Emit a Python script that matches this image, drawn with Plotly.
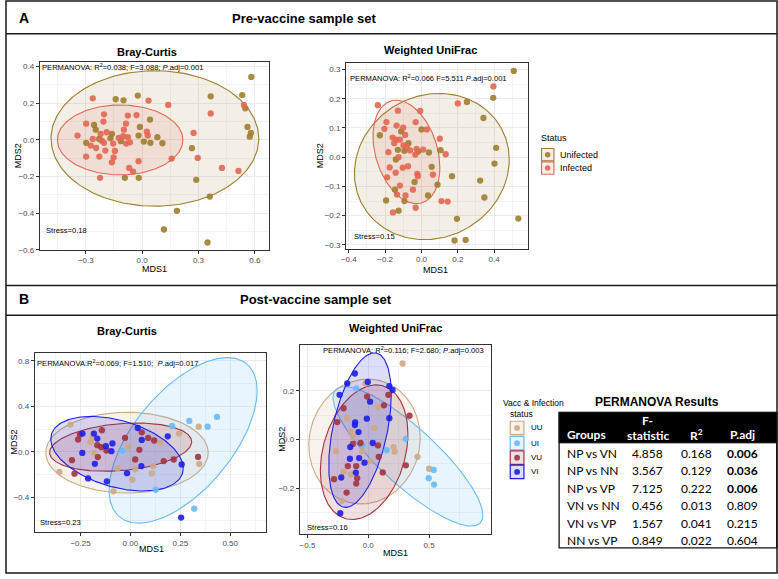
import numpy as np
import plotly.graph_objects as go

W, H = 778, 579
def px(x): return x / W
def py(y): return 1 - y / H

# ---------------- DATA ----------------
status_groups = ["Unifected", "Infected"]
vacc_groups = ["UU", "UI", "VU", "VI"]

# Panel A – Bray-Curtis (pre-vaccine)
a_bc_unif_x = [0.581, 0.533, 0.549, 0.365, 0.561, 0.579, 0.573, 0.265, 0.288, 0.360, 0.185, 0.116, 0.348,
               -0.141, -0.099, -0.023, 0.042, -0.012, 0.081, 0.108, 0.044, 0.009, -0.019, -0.092, -0.018,
               -0.256, -0.247, -0.298, -0.229, -0.169, -0.161, -0.113]
a_bc_unif_y = [0.344, 0.245, 0.173, 0.238, 0.071, 0.038, 0.018, -0.045, -0.218, -0.309, -0.387, -0.489, -0.560,
               0.222, 0.216, 0.242, 0.111, 0.071, 0.015, -0.018, -0.016, -0.009, 0.024, -0.207, -0.207,
               0.082, 0.056, -0.016, 0.005, 0.009, 0.033, -0.007]
a_bc_inf_x = [-0.263, 0.034, 0.139, 0.365, 0.542, -0.203, -0.076, -0.030, -0.298, -0.206, -0.086, -0.097, -0.344,
              -0.221, -0.189, 0.025, 0.030, -0.274, -0.245, -0.215, -0.203, -0.154, -0.124, -0.076, -0.085,
              -0.065, -0.196, -0.145, -0.298, -0.228, -0.152, -0.161, -0.019, -0.069, -0.048, -0.224, 0.157,
              0.274, 0.296, 0.425, 0.513, -0.101, -0.263]
a_bc_inf_y = [0.227, 0.215, 0.191, 0.145, 0.191, 0.140, 0.133, 0.136, 0.089, 0.100, 0.089, 0.056, 0.024,
              0.033, 0.042, 0.045, 0.024, -0.031, -0.044, -0.004, -0.016, -0.020, 0.011, 0.015, -0.020,
              -0.013, -0.058, -0.060, -0.091, -0.091, -0.096, -0.122, -0.116, -0.153, -0.173, -0.207, -0.102,
              0.038, -0.098, -0.153, -0.169, 0.020, 0.005]

# Panel A – Weighted UniFrac (pre-vaccine)
a_wu_unif_x = [0.508, 0.395, 0.250, 0.341, 0.411, 0.402, -0.229, -0.112, 0.0, -0.072, -0.130, -0.094, -0.018,
               0.041, 0.105, -0.141, 0.056, -0.038, 0.088, 0.168, 0.323, 0.346, 0.533, 0.195, 0.182, 0.243,
               -0.146, -0.094, 0.036, -0.195, -0.126]
a_wu_unif_y = [0.295, 0.203, 0.189, 0.134, 0.032, -0.022, 0.075, 0.088, 0.095, 0.048, 0.025, 0.022, 0.019,
               0.016, 0.024, -0.008, -0.033, -0.085, -0.094, -0.065, -0.080, -0.138, -0.210, -0.211, -0.285,
               -0.283, -0.111, -0.150, -0.131, -0.148, -0.183]
a_wu_inf_x = [-0.240, -0.130, -0.007, -0.193, -0.032, 0.200, 0.396, -0.204, -0.137, -0.101, 0.029, -0.159,
              -0.141, -0.119, -0.090, -0.150, -0.099, -0.081, -0.063, -0.027, 0.009, 0.101, 0.133, -0.182,
              -0.126, -0.034, -0.175, -0.103, -0.142, -0.023, -0.020, 0.063, -0.189, -0.119, -0.047, -0.135,
              -0.088, 0.110, 0.144, -0.032, -0.157, -0.074]
a_wu_inf_y = [0.178, 0.159, 0.158, 0.120, 0.120, 0.184, 0.242, 0.097, 0.108, 0.101, 0.095, 0.067, 0.060,
              0.060, 0.076, 0.048, 0.040, 0.036, 0.023, 0.028, 0.026, 0.063, 0.010, 0.017, 0.0, 0.009,
              -0.035, -0.036, -0.053, -0.057, -0.065, -0.060, -0.069, -0.097, -0.111, -0.128, -0.131,
              -0.150, -0.152, -0.173, -0.189, -0.031]

# Panel B – Bray-Curtis (post-vaccine)
b_bc_uu_x = [-0.300, 0.342, 0.244, 0.345, 0.150, -0.010, 0.114, 0.107, 0.024, 0.010, -0.065, -0.085, -0.356,
             -0.180, -0.200, -0.190]
b_bc_uu_y = [0.240, 0.222, 0.161, -0.105, 0.082, 0.047, -0.125, -0.189, -0.154, -0.245, -0.146, -0.347, -0.175,
             -0.009, 0.085, 0.123]
b_bc_ui_x = [0.434, 0.295, 0.387, 0.209, -0.040, 0.127, 0.320]
b_bc_ui_y = [0.307, 0.272, 0.222, 0.228, 0.009, -0.333, -0.499]
b_bc_vu_x = [0.339, 0.217, 0.119, 0.089, 0.057, -0.027, 0.045, 0.024, 0.167, -0.280, -0.293, -0.163, -0.120,
             -0.166, -0.146, -0.262, -0.143, -0.253]
b_bc_vu_y = [-0.044, -0.067, 0.100, 0.123, 0.172, 0.123, 0.018, -0.067, -0.081, -0.192, -0.073, -0.046, 0.012,
             0.059, 0.041, 0.109, 0.190, 0.152]
b_bc_vi_x = [0.254, 0.257, 0.187, 0.037, 0.057, 0.055, -0.017, -0.118, -0.212, -0.178, -0.241, -0.095, -0.123,
             -0.090, -0.240, -0.166, -0.183]
b_bc_vi_y = [-0.578, -0.110, 0.137, 0.210, 0.105, -0.125, -0.187, -0.259, -0.233, -0.105, -0.009, 0.006, 0.050,
             0.074, 0.161, 0.117, 0.161]

# Panel B – Weighted UniFrac (post-vaccine)
b_wu_uu_x = [0.282, -0.023, 0.083, -0.173, 0.050, -0.140, -0.124, -0.266, -0.050, 0.015, 0.208, 0.217, 0.405,
             0.500, -0.203, -0.143, -0.219]
b_wu_uu_y = [0.313, 0.231, 0.133, 0.086, 0.048, 0.034, 0.011, -0.048, -0.048, -0.088, -0.031, -0.050, -0.071,
             -0.120, -0.132, -0.143, -0.252]
b_wu_ui_x = [-0.099, -0.050, 0.309, 0.151, 0.538, 0.497, 0.541]
b_wu_ui_y = [0.211, -0.023, 0.003, -0.044, -0.125, -0.159, -0.185]
b_wu_vu_x = [0.165, -0.203, -0.255, -0.010, 0.129, 0.339, -0.127, -0.064, 0.080, 0.086, -0.168, -0.099, 0.309,
             0.119, -0.091, -0.099, -0.282, -0.178]
b_wu_vu_y = [0.184, 0.129, 0.072, 0.177, 0.141, 0.098, -0.018, -0.014, -0.024, -0.071, -0.109, -0.109, -0.106,
             -0.135, -0.159, -0.181, -0.163, -0.218]
b_wu_vi_x = [-0.110, -0.173, -0.004, -0.236, 0.173, 0.200, 0.015, -0.012, 0.173, -0.108, -0.110, -0.080, 0.037,
             -0.148, -0.151, -0.075, -0.031, -0.102, -0.222, -0.230]
b_wu_vi_y = [0.272, 0.231, 0.237, 0.184, 0.220, 0.204, 0.156, 0.086, 0.088, 0.071, 0.060, 0.031, -0.014,
             -0.031, -0.079, -0.076, -0.095, -0.136, -0.156, -0.303]

# 95% ellipses: centre x, centre y, half-width, half-height, x-offset of top point
a_bc_ellipse = {"Unifected": [0.068, 0.008, 0.553, 0.370, 0.0], "Infected": [-0.117, 0.0, 0.334, 0.191, 0.0]}
a_wu_ellipse = {"Unifected": [0.057, -0.032, 0.426, 0.250, 0.04], "Infected": [-0.083, 0.018, 0.184, 0.177, -0.056]}
b_bc_ellipse = {"UU": [-0.017, -0.007, 0.407, 0.355, 0.0], "UI": [0.264, 0.101, 0.371, 0.728, 0.222],
                "VU": [-0.049, 0.042, 0.356, 0.212, 0.08], "VI": [-0.067, -0.016, 0.332, 0.328, -0.13]}
b_wu_ellipse = {"UU": [-0.031, -0.008, 0.458, 0.257, 0.027], "UI": [0.326, -0.069, 0.616, 0.287, -0.52],
                "VU": [-0.034, -0.052, 0.360, 0.277, 0.098], "VI": [-0.068, 0.039, 0.257, 0.318, 0.118]}

# text
a_bc_stats = "PERMANOVA: R<sup>2</sup>=0.038; F=3.088; <i>P</i>.adj=0.001"
a_wu_stats = "PERMANOVA: R<sup>2</sup>=0.066 F=5.511 <i>P</i>.adj=0.001"
b_bc_stats = "PERMANOVA:R<sup>2</sup>=0.069; F=1.510;  <i>P</i>.adj=0.017"
b_wu_stats = "PERMANOVA: R<sup>2</sup>=0.116; F=2.680; <i>P</i>.adj=0.003"
stress_values = ["Stress=0.18", "Stress=0.15", "Stress=0.23", "Stress=0.16"]

# tick labels
a_bc_xticks = [-0.3, 0.0, 0.3, 0.6]; a_bc_xlab = ["\u22120.3", "0.0", "0.3", "0.6"]
a_bc_yticks = [-0.6, -0.4, -0.2, 0.0, 0.2, 0.4]; a_bc_ylab = ["\u22120.6", "\u22120.4", "\u22120.2", "0.0", "0.2", "0.4"]
a_wu_xticks = [-0.4, -0.2, 0.0, 0.2, 0.4]; a_wu_xlab = ["\u22120.4", "\u22120.2", "0.0", "0.2", "0.4"]
a_wu_yticks = [-0.3, -0.2, -0.1, 0.0, 0.1, 0.2, 0.3]
a_wu_ylab = ["\u22120.3", "\u22120.2", "\u22120.1", "0.0", "0.1", "0.2", "0.3"]
b_bc_xticks = [-0.25, 0.0, 0.25, 0.5]; b_bc_xlab = ["\u22120.25", "0.00", "0.25", "0.50"]
b_bc_yticks = [-0.4, 0.0, 0.4, 0.8]; b_bc_ylab = ["\u22120.4", "0.0", "0.4", "0.8"]
b_wu_xticks = [-0.5, 0.0, 0.5]; b_wu_xlab = ["\u22120.5", "0.0", "0.5"]
b_wu_yticks = [-0.2, 0.0, 0.2]; b_wu_ylab = ["\u22120.2", "0.0", "0.2"]

# PERMANOVA table
tbl_header = ["Groups", "F-<br>statistic", "R<sup>2</sup>", "P.adj"]
tbl_groups = ["NP vs VN", "NP vs NN", "NP vs VP", "VN vs NN", "VN vs VP", "NN vs VP"]
tbl_f = ["4.858", "3.567", "7.125", "0.456", "1.567", "0.849"]
tbl_r2 = ["0.168", "0.129", "0.222", "0.013", "0.041", "0.022"]
tbl_padj = ["0.006", "0.036", "0.006", "0.809", "0.215", "0.604"]
tbl_sig = [True, True, True, False, False, False]

# ---------------- STYLE ----------------
FONT = "Liberation Sans, Arial, sans-serif"
TFONT = "Lato, Liberation Sans, Arial, sans-serif"
status_col = {"Unifected": (158, 125, 46), "Infected": (226, 102, 82)}
vacc_col = {"UU": (205, 168, 132), "UI": (104, 186, 245), "VU": (163, 50, 62), "VI": (30, 30, 232)}
def rgb(c, a=1.0): return f"rgba({c[0]},{c[1]},{c[2]},{a})"

fig = go.Figure()

def ellipse(p, n=240):
    cx, cy, hw, hh, d = p
    c = d * hh
    l10 = c / hw
    l11 = np.sqrt(hh ** 2 - l10 ** 2)
    t = np.linspace(0, 2 * np.pi, n)
    return cx + hw * np.cos(t), cy + l10 * np.cos(t) + l11 * np.sin(t)

def add_panel(ax, ell, pts, cols, fill_a):
    xr, yr = f"x{ax}", f"y{ax}"
    for g, p in ell.items():
        ex, ey = ellipse(p)
        fig.add_trace(go.Scatter(x=ex, y=ey, mode="lines", fill="toself", fillcolor=rgb(cols[g], fill_a),
                                 line=dict(color=rgb(cols[g]), width=1.1), xaxis=xr, yaxis=yr,
                                 showlegend=False, hoverinfo="skip"))
    for g, (xs, ys) in pts.items():
        fig.add_trace(go.Scatter(x=xs, y=ys, mode="markers", name=g, xaxis=xr, yaxis=yr, showlegend=False,
                                 marker=dict(size=6.3, color=rgb(cols[g], 0.9), line=dict(width=0))))

add_panel(1, a_bc_ellipse, {"Unifected": (a_bc_unif_x, a_bc_unif_y), "Infected": (a_bc_inf_x, a_bc_inf_y)},
          status_col, 0.12)
add_panel(2, a_wu_ellipse, {"Unifected": (a_wu_unif_x, a_wu_unif_y), "Infected": (a_wu_inf_x, a_wu_inf_y)},
          status_col, 0.12)
add_panel(3, b_bc_ellipse, {"UU": (b_bc_uu_x, b_bc_uu_y), "UI": (b_bc_ui_x, b_bc_ui_y),
                            "VU": (b_bc_vu_x, b_bc_vu_y), "VI": (b_bc_vi_x, b_bc_vi_y)}, vacc_col, 0.15)
add_panel(4, b_wu_ellipse, {"UU": (b_wu_uu_x, b_wu_uu_y), "UI": (b_wu_ui_x, b_wu_ui_y),
                            "VU": (b_wu_vu_x, b_wu_vu_y), "VI": (b_wu_vi_x, b_wu_vi_y)}, vacc_col, 0.15)

# axes
def axis(dom, rng, tv, tt, minor_dt, anchor):
    return dict(domain=dom, range=rng, tickvals=tv, ticktext=tt, anchor=anchor,
                showline=True, mirror=True, linecolor="#333333", linewidth=1,
                ticks="outside", ticklen=3, tickwidth=0.8, tickcolor="#333333",
                tickfont=dict(size=8, color="#4D4D4D", family=FONT),
                showgrid=True, gridcolor="#EBEBEB", gridwidth=0.9, zeroline=False,
                minor=dict(tickmode="linear", tick0=0, dtick=minor_dt, showgrid=True,
                           gridcolor="#F4F4F4", gridwidth=0.5, ticks=""))

panels = [
    (1, (35, 266), (63, 252), (-0.545, 0.677), (-0.6, 0.423), a_bc_xticks, a_bc_xlab, a_bc_yticks, a_bc_ylab, 0.15, 0.1),
    (2, (343.3, 526.7), (63.3, 250.7), (-0.415, 0.588), (-0.3125, 0.323), a_wu_xticks, a_wu_xlab, a_wu_yticks, a_wu_ylab, 0.1, 0.05),
    (3, (30, 263), (356, 536.7), (-0.479, 0.681), (-0.705, 0.870), b_bc_xticks, b_bc_xlab, b_bc_yticks, b_bc_ylab, 0.125, 0.2),
    (4, (296.7, 489), (348.3, 539), (-0.563, 1.008), (-0.39, 0.388), b_wu_xticks, b_wu_xlab, b_wu_yticks, b_wu_ylab, 0.25, 0.1),
]
lay = {}
for i, xd, yd, xr, yr, xt, xl, yt, yl, mx, my in panels:
    sx = "" if i == 1 else str(i)
    lay[f"xaxis{sx}"] = axis([px(xd[0]), px(xd[1])], list(xr), xt, xl, mx, f"y{sx}")
    lay[f"yaxis{sx}"] = axis([py(yd[1]), py(yd[0])], list(yr), yt, yl, my, f"x{sx}")

ann = []
def text(x, y, s, size=9, bold=False, anchor="center", color="black", angle=0, family=FONT):
    ann.append(dict(x=px(x), y=py(y), xref="paper", yref="paper", text=f"<b>{s}</b>" if bold else s,
                    showarrow=False, xanchor=anchor, yanchor="middle", textangle=angle,
                    font=dict(size=size, color=color, family=family)))

# headers
text(19, 18.5, "A", 14, True)
text(300.5, 18.5, "Pre-vaccine sample set", 13, True)
text(19, 302, "B", 14, True)
text(313.5, 302, "Post-vaccine sample set", 13, True)
# subplot titles
text(142.6, 52, "Bray-Curtis", 11, True)
text(428, 50, "Weighted UniFrac", 11, True)
text(123, 334, "Bray-Curtis", 11, True)
text(393.3, 331, "Weighted UniFrac", 11, True)
# axis titles
for x, y in [(150, 271), (433, 272), (147, 553.5), (393, 558)]:
    text(x, y, "MDS1", 9)
for x, y in [(12.7, 157), (316.7, 157), (9.3, 446), (279.3, 443)]:
    text(x, y, "MDS2", 9, angle=-90)
# stats
text(35.5, 68, a_bc_stats, 7.6, anchor="left")
text(345, 79, a_wu_stats, 7.6, anchor="left")
text(30.5, 366, b_bc_stats, 7.6, anchor="left")
text(318, 353, b_wu_stats, 7.6, anchor="left")
for (x, y), s in zip([(39, 233), (349, 239), (33, 527), (302, 532)], stress_values):
    text(x, y, s, 7.6, anchor="left")

shapes = []
def rect(x0, y0, x1, y1, line, fill="rgba(0,0,0,0)", w=1.0, layer="above"):
    shapes.append(dict(type="rect", xref="paper", yref="paper", x0=px(x0), x1=px(x1), y0=py(y0), y1=py(y1),
                       line=dict(color=line, width=w), fillcolor=fill, layer=layer))
def dot(x, y, r, col):
    shapes.append(dict(type="circle", xref="paper", yref="paper", x0=px(x - r), x1=px(x + r),
                       y0=py(y + r), y1=py(y - r), line=dict(width=0), fillcolor=col, layer="above"))
def hline(y, x0=1, x1=777, w=1.5):
    shapes.append(dict(type="line", xref="paper", yref="paper", x0=px(x0), x1=px(x1), y0=py(y), y1=py(y),
                       line=dict(color="#1A1A1A", width=w)))

# frames
rect(1, 1, 777, 578, "#1A1A1A", w=1.5)
hline(34); hline(288); hline(318)

# legend A
text(537, 139.5, "Status", 9, anchor="left")
for g, yc in zip(status_groups, [156, 169.5]):
    rect(540, yc - 6.2, 552.5, yc + 6.2, rgb(status_col[g]), rgb(status_col[g], 0.12), 1.1)
    dot(546.2, yc, 2.8, rgb(status_col[g], 0.9))
    text(557, yc, g, 9, anchor="left")

# legend B
text(499, 406.7, "Vacc &amp; Infection", 8.5, anchor="left")
text(506, 417.5, "status", 8.5, anchor="left")
for g, yc in zip(vacc_groups, [431.7, 447, 461.7, 476]):
    rect(508.5, yc - 6.8, 522.3, yc + 6.8, rgb(vacc_col[g]), rgb(vacc_col[g], 0.15), 1.2)
    dot(515.4, yc, 2.9, rgb(vacc_col[g], 0.9))
    text(527.3, yc, g, 8, anchor="left")

# PERMANOVA table (drawn as shapes + text)
text(656.7, 406, "PERMANOVA Results", 12, True)
rect(557.7, 416, 776.7, 446.7, "black", "black", 1)
col_x = [564, 646.7, 695.7, 742.7]
col_anchor = ["left", "center", "center", "center"]
for k, h in enumerate(tbl_header):
    if k == 1:
        text(col_x[k], 424, "F-", 12, True, col_anchor[k], "white", family=TFONT)
        text(col_x[k], 439, "statistic", 12, True, col_anchor[k], "white", family=TFONT)
    else:
        text(col_x[k], 438.5, h, 12, True, col_anchor[k], "white", family=TFONT)
row_y = [457.3, 475, 492.3, 510, 527.7, 545]
for r, yv in enumerate(row_y):
    vals = [tbl_groups[r], tbl_f[r], tbl_r2[r], tbl_padj[r]]
    for k, v in enumerate(vals):
        text(col_x[k], yv, v, 12, bold=(k == 3 and tbl_sig[r]), anchor=col_anchor[k], family=TFONT)
rect(557.7, 416, 776.7, 552.7, "#111111", w=1.3)

fig.update_layout(width=W, height=H, margin=dict(l=0, r=0, t=0, b=0), paper_bgcolor="white",
                  plot_bgcolor="white", showlegend=False, annotations=ann, shapes=shapes,
                  font=dict(family=FONT), **lay)
fig.write_html("out.html", config={"displayModeBar": False},
               post_script="document.body.style.margin='0';document.body.style.padding='0';"
                           "document.body.style.overflow='hidden';")
